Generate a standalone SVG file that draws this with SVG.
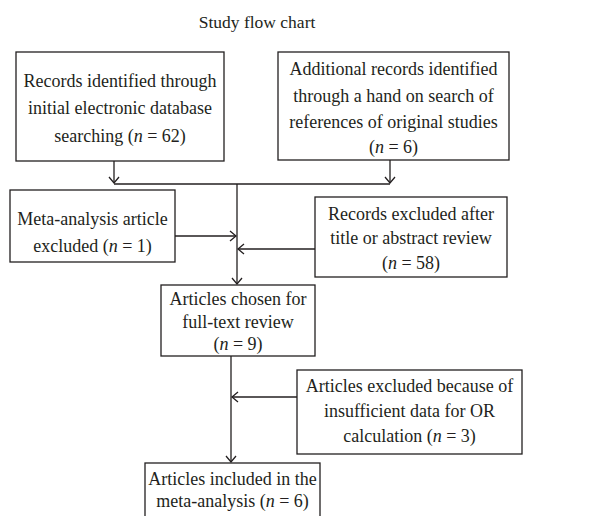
<svg xmlns="http://www.w3.org/2000/svg" width="614" height="516" viewBox="0 0 614 516">
<style>
text{font-family:"Liberation Serif","Times New Roman",serif;font-size:18px;fill:#231f20;text-anchor:middle}
.t{font-size:17.5px}
.i{font-style:italic}
rect{fill:#fff;stroke:#231f20;stroke-width:1.3}
.c path{fill:none;stroke:#231f20;stroke-width:1.3}
</style>
<defs>
<marker id="a" markerUnits="userSpaceOnUse" markerWidth="12" markerHeight="14" viewBox="-7 -7 8 14" refX="0" refY="0" orient="auto">
<path d="M-6,-5 L0,0 L-6,5" fill="none" stroke="#231f20" stroke-width="1.3"/>
</marker>
</defs>
<text class="t" x="257" y="28">Study flow chart</text>
<g class="c" id="connectors">
<path d="M114,161 V183" marker-end="url(#a)"/>
<path d="M390,160 V183" marker-end="url(#a)"/>
<path d="M114,184 H390"/>
<path d="M237,184 V284" marker-end="url(#a)"/>
<path d="M175,236 H236" marker-end="url(#a)"/>
<path d="M315,249 H238" marker-end="url(#a)"/>
<path d="M231,356 V462" marker-end="url(#a)"/>
<path d="M297,397 H232" marker-end="url(#a)"/>
</g>
<g id="n1">
<rect x="16" y="52" width="208" height="109"/>
<text x="120" y="87">Records identified through</text>
<text x="120" y="114">initial electronic database</text>
<text x="120" y="142">searching (<tspan class="i">n</tspan> = 62)</text>
</g>
<g id="n2">
<rect x="278" y="52" width="231" height="108"/>
<text x="393.5" y="75">Additional records identified</text>
<text x="393.5" y="102">through a hand on search of</text>
<text x="393.5" y="128">references of original studies</text>
<text x="393.5" y="153">(<tspan class="i">n</tspan> = 6)</text>
</g>
<g id="n3">
<rect x="10" y="190" width="165" height="72"/>
<text x="92.5" y="225">Meta-analysis article</text>
<text x="92.5" y="252">excluded (<tspan class="i">n</tspan> = 1)</text>
</g>
<g id="n4">
<rect x="315" y="197" width="192" height="80"/>
<text x="411" y="220">Records excluded after</text>
<text x="411" y="244">title or abstract review</text>
<text x="411" y="269">(<tspan class="i">n</tspan> = 58)</text>
</g>
<g id="n5">
<rect x="161" y="285" width="154" height="71"/>
<text x="238" y="305">Articles chosen for</text>
<text x="238" y="328">full-text review</text>
<text x="238" y="350">(<tspan class="i">n</tspan> = 9)</text>
</g>
<g id="n6">
<rect x="297" y="370" width="225" height="84"/>
<text x="409.5" y="392">Articles excluded because of</text>
<text x="409.5" y="417">insufficient data for OR</text>
<text x="409.5" y="442">calculation (<tspan class="i">n</tspan> = 3)</text>
</g>
<g id="n7">
<rect x="145" y="463" width="175" height="60"/>
<text x="232.5" y="485">Articles included in the</text>
<text x="232.5" y="507">meta-analysis (<tspan class="i">n</tspan> = 6)</text>
</g>
</svg>
